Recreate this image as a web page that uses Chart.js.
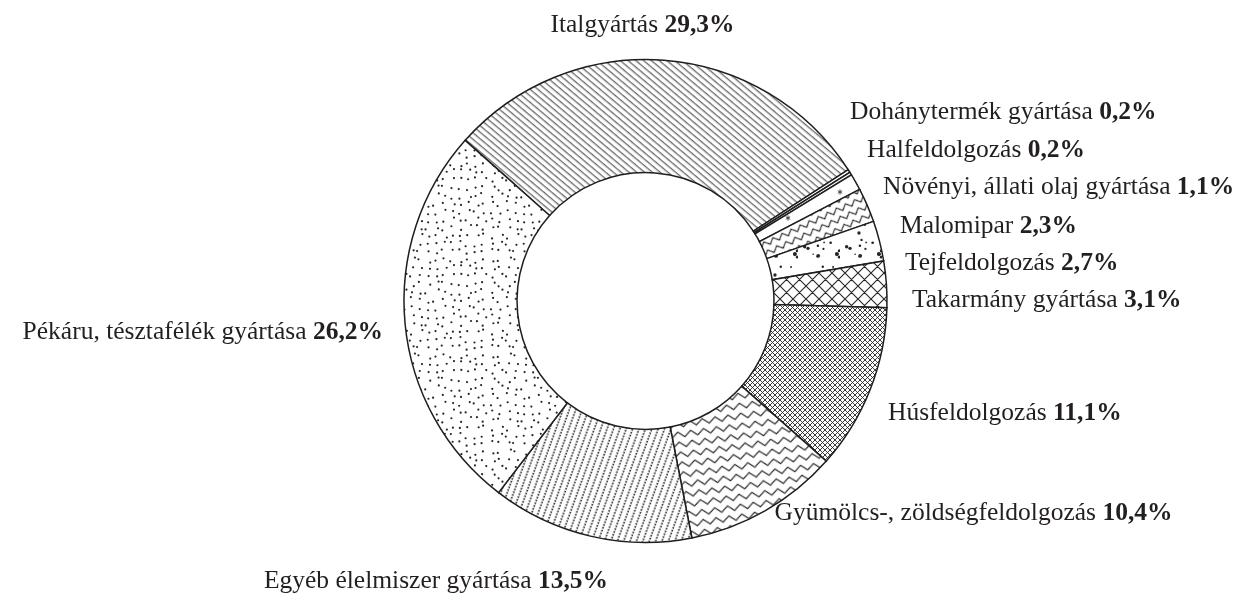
<!DOCTYPE html>
<html><head><meta charset="utf-8">
<script src="https://cdn.jsdelivr.net/npm/chart.js@4.4.1/dist/chart.umd.min.js"></script>
<style>html,body{margin:0;padding:0;background:#fff;}#wrap{width:1243px;height:594px;}</style>
</head><body><div id="wrap"><canvas id="c" width="1243" height="594"></canvas></div>
<script>
// ---- data ----
const categories = ["Italgyártás", "Dohánytermék gyártása", "Halfeldolgozás", "Növényi, állati olaj gyártása", "Malomipar", "Tejfeldolgozás", "Takarmány gyártása", "Húsfeldolgozás", "Gyümölcs-, zöldségfeldolgozás", "Egyéb élelmiszer gyártása", "Pékáru, tésztafélék gyártása"];
const shares = [29.3, 0.2, 0.2, 1.1, 2.3, 2.7, 3.1, 11.1, 10.4, 13.5, 26.2];
const shareLabels = ["29,3%", "0,2%", "0,2%", "1,1%", "2,3%", "2,7%", "3,1%", "11,1%", "10,4%", "13,5%", "26,2%"];

// label anchor offsets from the doughnut centre (text layout only)
const labelLayout = [
  {dx: -3, dy: -276, align: 'center'},
  {dx: 204.5, dy: -189, align: 'left'},
  {dx: 221.5, dy: -151, align: 'left'},
  {dx: 237.5, dy: -114, align: 'left'},
  {dx: 254.5, dy: -75, align: 'left'},
  {dx: 259.5, dy: -38, align: 'left'},
  {dx: 266.5, dy: -1, align: 'left'},
  {dx: 242.5, dy: 112, align: 'left'},
  {dx: 129, dy: 212, align: 'left'},
  {dx: -209.5, dy: 280, align: 'center'},
  {dx: -262.5, dy: 31, align: 'right'}
];

const canvas = document.getElementById('c');
const ctx = canvas.getContext('2d');
const INK = '#262626';

function tile(w, h, draw) {
  const c = document.createElement('canvas');
  c.width = w; c.height = h;
  const g = c.getContext('2d');
  g.fillStyle = '#fff'; g.fillRect(0, 0, w, h);
  g.strokeStyle = INK; g.fillStyle = INK;
  draw(g, w, h);
  return c;
}
function pat(c, angle) {
  const p = ctx.createPattern(c, 'repeat');
  if (angle) p.setTransform(new DOMMatrix().rotate(angle));
  return p;
}
function lcg(seed) { let s = seed; return () => { s = (s * 1664525 + 1013904223) % 4294967296; return s / 4294967296; }; }

// patterns
const pLines = pat(tile(10, 5.5, (g) => { g.lineWidth = 0.9; g.beginPath(); g.moveTo(0, 2.75); g.lineTo(10, 2.75); g.stroke(); }), 40);
const pBlank = '#ffffff';
const pStar = pat(tile(26, 26, (g) => {
  g.lineWidth = 0.8; const cx = 8, cy = 10, r = 2.6;
  g.beginPath();
  for (let k = 0; k < 3; k++) { const a = k * Math.PI / 3 + Math.PI / 2; g.moveTo(cx - r * Math.cos(a), cy - r * Math.sin(a)); g.lineTo(cx + r * Math.cos(a), cy + r * Math.sin(a)); }
  g.stroke();
}), 0);
function zig(P, H, amp, lw) {
  return tile(P, H, (g) => {
    g.lineWidth = lw; g.beginPath();
    const y0 = (H - amp) / 2;
    g.moveTo(-P / 2, y0 + amp); g.lineTo(0, y0); g.lineTo(P / 2, y0 + amp); g.lineTo(P, y0); g.lineTo(P * 1.5, y0 + amp);
    g.stroke();
  });
}
const pZigA = pat(zig(10, 9, 5, 1.1), -25);
const pZigB = pat(zig(13, 10, 5.5, 1.1), -8);
const pVarDots = pat(tile(42, 42, (g) => {
  const r = lcg(7);
  for (let i = 0; i < 16; i++) {
    const x = r() * 42, y = r() * 42, rad = 0.7 + r() * 1.6;
    g.beginPath(); g.arc(x, y, rad, 0, Math.PI * 2); g.fill();
  }
}), 0);
function cross(s, lw) {
  return tile(s, s, (g) => {
    g.lineWidth = lw; g.beginPath();
    for (const k of [-s, 0, s]) { g.moveTo(k, 0); g.lineTo(k + s, s); g.moveTo(k + s, 0); g.lineTo(k, s); }
    g.stroke();
  });
}
const pCrossL = pat(cross(13, 1.1), 0);
const pCrossS = pat(cross(5, 0.9), 0);
const pDotLines = pat(tile(6.5, 3.5, (g) => { g.beginPath(); g.arc(3.2, 1.75, 0.9, 0, Math.PI * 2); g.fill(); }), 20);
const pSmallDots = pat(tile(96, 96, (g) => {
  const r = lcg(12345);
  for (let gy = 0; gy < 12; gy++) for (let gx = 0; gx < 12; gx++) {
    const x = gx * 8 + 1 + r() * 6, y = gy * 8 + 1 + r() * 6;
    g.beginPath(); g.arc(x, y, 1.1, 0, Math.PI * 2); g.fill();
  }
}), 0);

const fills = [pLines, pBlank, pBlank, pStar, pZigA, pVarDots, pCrossL, pCrossS, pZigB, pDotLines, pSmallDots];

const labelPlugin = {
  id: 'sliceLabels',
  afterDraw(chart) {
    const g = chart.ctx;
    const arc = chart.getDatasetMeta(0).data[0];
    const cx = arc.x, cy = arc.y;
    const reg = '25.5px "Liberation Serif", "Times New Roman", serif';
    const bold = 'bold 25.5px "Liberation Serif", "Times New Roman", serif';
    g.save();
    g.textBaseline = 'middle'; g.textAlign = 'left'; g.fillStyle = '#231f20';
    categories.forEach((name, i) => {
      const L = labelLayout[i];
      const t1 = name + ' ', t2 = shareLabels[i];
      g.font = reg; const w1 = g.measureText(t1).width;
      g.font = bold; const w2 = g.measureText(t2).width;
      let x = cx + L.dx;
      if (L.align === 'center') x -= (w1 + w2) / 2;
      else if (L.align === 'right') x -= (w1 + w2);
      const y = cy + L.dy;
      g.font = reg; g.fillText(t1, x, y);
      g.font = bold; g.fillText(t2, x + w1, y);
    });
    g.restore();
  }
};

new Chart(ctx, {
  type: 'doughnut',
  data: {
    labels: categories,
    datasets: [{
      data: shares,
      backgroundColor: fills,
      borderColor: '#1e1e1e',
      borderWidth: 1.5,
      borderJoinStyle: 'miter'
    }]
  },
  options: {
    responsive: false,
    animation: false,
    rotation: -48.3,
    cutout: '53.2%',
    layout: { padding: { top: 58.75, bottom: 50.75, left: 300, right: 252 } },
    plugins: { legend: { display: false }, tooltip: { enabled: false } }
  },
  plugins: [labelPlugin]
});
</script>
</body></html>
